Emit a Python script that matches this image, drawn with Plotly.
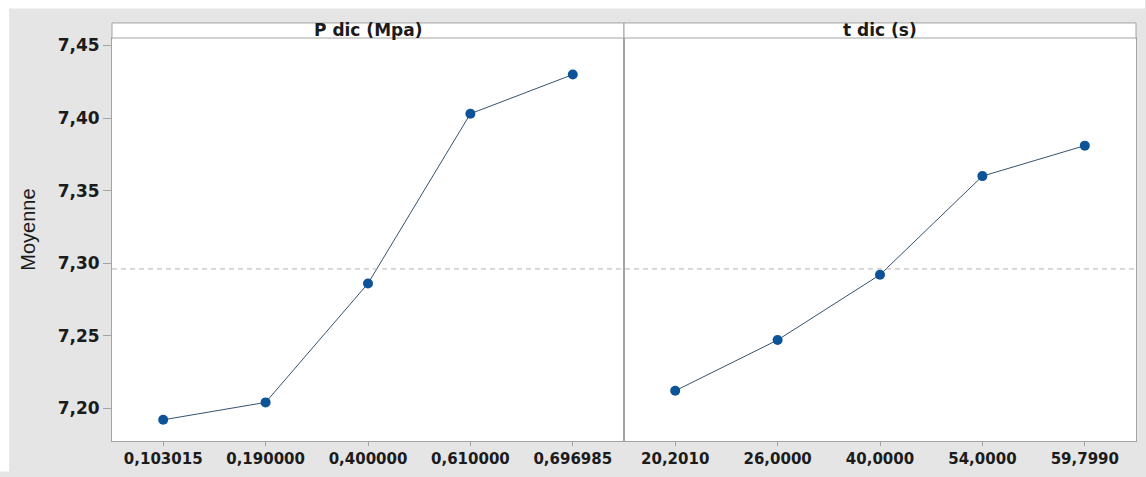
import plotly.graph_objects as go

# Main effects for the mean response
p_levels = ["0,103015", "0,190000", "0,400000", "0,610000", "0,696985"]
p_means = [7.192, 7.204, 7.286, 7.403, 7.430]

t_levels = ["20,2010", "26,0000", "40,0000", "54,0000", "59,7990"]
t_means = [7.212, 7.247, 7.292, 7.360, 7.381]

grand_mean = 7.296
panel_titles = ["P dic (Mpa)", "t dic (s)"]
y_ticks = [7.20, 7.25, 7.30, 7.35, 7.40, 7.45]

W, H = 1146, 477
ML, MR, MT, MB = 112, 9, 38, 29
PW, PH = W - ML - MR, H - MT - MB

def px_x(p):
    return (p - ML) / PW

def px_y(p):
    return (H - MB - p) / PH

GREY_LINE = "#a3a3a3"
BG = "#e5e5e5"
MARK = "#0d5397"
TXT = "#1b1b1b"
xtick_font = dict(family="DejaVu Sans", size=15, color=TXT, weight="bold")
ytick_font = dict(family="DejaVu Sans", size=17, color=TXT, weight="bold")

fig = go.Figure()
for i, (lv, vals) in enumerate([(p_levels, p_means), (t_levels, t_means)]):
    fig.add_trace(go.Scatter(
        x=list(range(len(lv))), y=vals,
        xaxis="x" if i == 0 else "x2", yaxis="y" if i == 0 else "y2",
        mode="lines+markers",
        line=dict(color="#34536f", width=1),
        marker=dict(color=MARK, size=10, symbol="circle"),
        showlegend=False, hoverinfo="skip",
    ))

yr = [7.1774, 7.4552]
common_x = dict(range=[-0.5, 4.5], showgrid=False, zeroline=False, showline=True,
                linecolor=GREY_LINE, linewidth=1, mirror=True, ticks="outside",
                ticklen=4, tickcolor=GREY_LINE, tickfont=xtick_font,
                tickvals=list(range(5)))

fig.update_layout(
    width=W, height=H,
    margin=dict(l=ML, r=MR, t=MT, b=MB, pad=0),
    paper_bgcolor=BG, plot_bgcolor="white",
    separators=", ",
    xaxis=dict(domain=[0, 0.5], ticktext=p_levels, **common_x),
    xaxis2=dict(domain=[0.5, 1], ticktext=t_levels, **common_x),
    yaxis=dict(range=yr, tickvals=y_ticks, tickformat=".2f", showgrid=False,
               zeroline=False, showline=True, linecolor=GREY_LINE, linewidth=1,
               mirror=True, ticks="outside", ticklen=8, tickcolor=GREY_LINE,
               tickfont=ytick_font),
    yaxis2=dict(range=yr, anchor="x2", matches="y", showticklabels=False,
                showgrid=False, zeroline=False, showline=True, linecolor=GREY_LINE,
                linewidth=1, mirror=True, ticks=""),
)

shapes = []
# grand mean reference line across both panels
shapes.append(dict(type="line", xref="paper", yref="y", x0=0, x1=1,
                   y0=grand_mean, y1=grand_mean,
                   line=dict(color="#b5b5b5", width=1, dash="5px,4px")))
# panel header strips
strip_top = px_y(22.7)
annotations = []
for i, title in enumerate(panel_titles):
    x0, x1 = i * 0.5, (i + 1) * 0.5
    shapes.append(dict(type="rect", xref="paper", yref="paper", x0=x0, x1=x1,
                       y0=1, y1=strip_top, fillcolor="white",
                       line=dict(color=GREY_LINE, width=1)))
    annotations.append(dict(text=title, xref="paper", yref="paper",
                            x=(x0 + x1) / 2, y=(1 + strip_top) / 2,
                            showarrow=False, xanchor="center", yanchor="middle",
                            font=dict(family="DejaVu Sans", size=17, color=TXT,
                                      weight="bold")))
# grey band along the bottom edge of the page
shapes.append(dict(type="rect", xref="paper", yref="paper", x0=px_x(9), x1=px_x(W + 2),
                   y0=px_y(H + 3), y1=px_y(H - 12), fillcolor=BG, line=dict(width=0),
                   layer="below"))
# white page border on top and left
shapes.append(dict(type="rect", xref="paper", yref="paper", x0=px_x(0), x1=px_x(W),
                   y0=px_y(8), y1=px_y(-2), fillcolor="white", line=dict(width=0),
                   layer="above"))
shapes.append(dict(type="rect", xref="paper", yref="paper", x0=px_x(-2), x1=px_x(9),
                   y0=px_y(H + 2), y1=px_y(-2), fillcolor="white", line=dict(width=0),
                   layer="above"))

annotations.append(dict(text="Moyenne", xref="paper", yref="paper",
                        x=px_x(28), y=px_y(233), textangle=-90, showarrow=False,
                        xanchor="center", yanchor="middle",
                        font=dict(family="Liberation Sans, Arial, sans-serif",
                                  size=20, color=TXT)))

fig.update_layout(shapes=shapes, annotations=annotations)
fig.write_html("out.html")
